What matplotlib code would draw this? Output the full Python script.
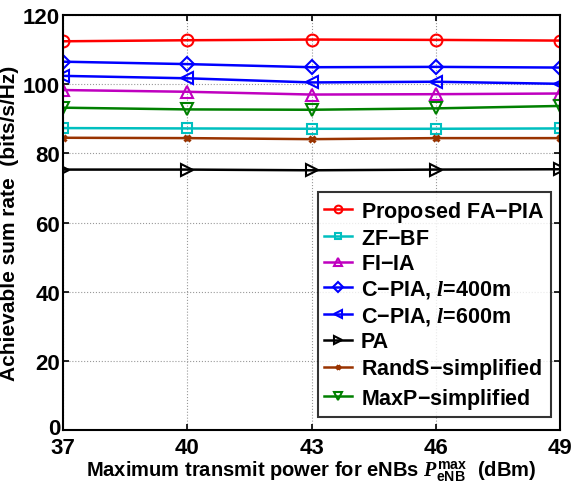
import matplotlib
matplotlib.use("Agg")
import matplotlib.pyplot as plt
import matplotlib.transforms as mtransforms

plt.rcParams['font.family'] = ['Liberation Sans', 'DejaVu Sans']
plt.rcParams['font.weight'] = 'bold'
plt.rcParams['mathtext.fontset'] = 'custom'
plt.rcParams['mathtext.it'] = 'Liberation Serif:italic'
plt.rcParams['mathtext.rm'] = 'Liberation Sans:bold'
plt.rcParams['mathtext.bf'] = 'Liberation Sans:bold'

# data
power = [37, 40, 43, 46, 49]
proposed = [112.4, 112.7, 112.9, 112.8, 112.6]
zfbf = [87.3, 87.2, 87.1, 87.1, 87.2]
fiia = [98.3, 97.8, 97.0, 97.1, 97.3]
cpia400 = [106.5, 105.8, 104.9, 105.0, 104.8]
cpia600 = [102.4, 101.7, 100.5, 100.7, 100.1]
pa = [75.3, 75.3, 75.1, 75.3, 75.4]
rands = [84.5, 84.4, 84.1, 84.4, 84.4]
maxp = [93.2, 92.7, 92.6, 93.0, 93.7]

fig = plt.figure(figsize=(5.73, 4.89), dpi=100)
ax = fig.add_axes([63/573, 1-431/489, (560-63)/573, (431-16)/489])

lw = 1.8
ms = 8.5
mew = 1.5
ax.plot(power, proposed, color='red', marker='o', mfc='none', mew=mew, ms=ms, lw=lw, label='Proposed FA$-$PIA')
ax.plot(power, zfbf, color=(0, 0.75, 0.75), marker='s', mfc='none', mew=mew, ms=7.5, lw=lw, label='ZF$-$BF')
ax.plot(power, fiia, color=(0.75, 0, 0.75), marker='^', mfc='none', mew=mew, ms=ms, lw=lw, label='FI$-$IA')
ax.plot(power, cpia400, color='blue', marker='D', mfc='none', mew=mew, ms=7.5, lw=lw, label='C$-$PIA, $l$=400m')
ax.plot(power, cpia600, color='blue', marker='<', mfc='none', mew=mew, ms=ms, lw=lw, label='C$-$PIA, $l$=600m')
ax.plot(power, pa, color='black', marker='>', mfc='none', mew=mew, ms=ms, lw=lw, label='PA')
ax.plot(power, rands, color=(0.6, 0.2, 0), marker='x', mew=2.2, ms=5, lw=lw, label='RandS$-$simplified')
ax.plot(power, maxp, color=(0, 0.5, 0), marker='v', mfc='none', mew=mew, ms=ms, lw=lw, label='MaxP$-$simplified')

ax.set_xlim(37, 49)
ax.set_ylim(0, 120)
ax.set_xticks(power)
ax.set_yticks(range(0, 121, 20))
ax.tick_params(direction='in', labelsize=16, length=4, width=1.2, top=True, right=True, pad=2)
ax.tick_params(axis='x', pad=5)
ax.grid(True, linestyle=':', color='0.6', linewidth=0.8)
for s in ax.spines.values():
    s.set_linewidth(1.5)

# nudge the "0" up a little so it does not sit on the "37"
lab0 = ax.get_yticklabels()[0]
lab0.set_transform(lab0.get_transform() + mtransforms.ScaledTranslation(0, 4/100, fig.dpi_scale_trans))

ax.set_xlabel(r'Maximum transmit power for eNBs $P^{\mathbf{max}}_{\mathbf{eNB}}$  (dBm)', fontsize=14.5, fontweight='bold', labelpad=0)
ax.set_ylabel('Achievable sum rate  (bits/s/Hz)', fontsize=15, fontweight='bold', labelpad=3)

leg = ax.legend(loc='lower right', fontsize=15.5, frameon=True, fancybox=False, edgecolor='black',
                handlelength=1.3, handletextpad=0.4, labelspacing=0.2, borderpad=0.3,
                markerscale=0.65, borderaxespad=0, bbox_to_anchor=(0.982, 0.031))
leg.get_frame().set_linewidth(1.5)

fig.savefig('out.png', dpi=100)
